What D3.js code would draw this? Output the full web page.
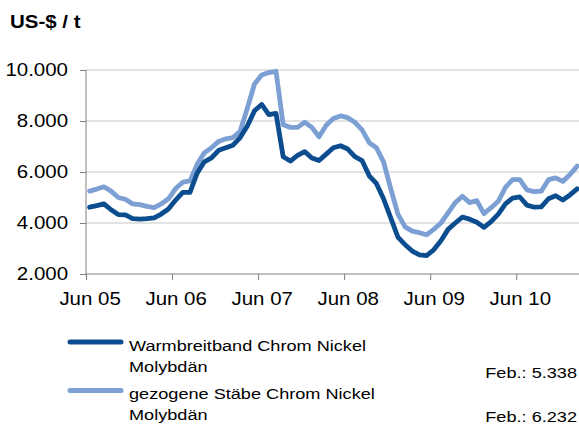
<!DOCTYPE html>
<html>
<head>
<meta charset="utf-8">
<script src="https://cdn.jsdelivr.net/npm/d3@7/dist/d3.min.js"></script>
<style>
  html, body { margin: 0; padding: 0; background: #fff; }
  svg { display: block; }
  text { font-family: "Liberation Sans", Arial, sans-serif; fill: #000; }
</style>
</head>
<body>
<svg id="chart" width="579" height="425"></svg>
<script>
// Monthly prices, Jun 2005 – Feb 2011 (US-$ per tonne)
const warmbreitband = [
  4620, 4680, 4750, 4520, 4330, 4320, 4170, 4150, 4170, 4200,
  4350, 4550, 4900, 5200, 5200, 5950, 6400, 6550, 6850, 6950,
  7050, 7350, 7800, 8400, 8650, 8250, 8300, 6600, 6430, 6650,
  6800, 6550, 6450, 6700, 6950, 7030, 6900, 6600, 6450, 5850,
  5550, 4950, 4200, 3450, 3150, 2900, 2750, 2720, 2950, 3300,
  3750, 4000, 4230, 4150, 4030, 3830, 4050, 4350, 4750, 4980,
  5020, 4700, 4620, 4630, 4950, 5070, 4900, 5100, 5338
];
const gezogeneStaebe = [
  5250, 5330, 5420, 5250, 5000, 4930, 4750, 4720, 4650, 4600,
  4750, 4950, 5350, 5600, 5650, 6300, 6750, 6950, 7200, 7300,
  7350, 7600, 8500, 9450, 9800, 9900, 9950, 7850, 7750, 7750,
  7950, 7750, 7380, 7830, 8100, 8200, 8130, 7950, 7650, 7150,
  6950, 6400, 5350, 4350, 3850, 3680, 3620, 3540, 3750, 4000,
  4400, 4800, 5050, 4800, 4880, 4370, 4600, 4850, 5400, 5700,
  5700, 5300, 5230, 5250, 5700, 5770, 5630, 5900, 6232
];
const seriesNames = [
  ["Warmbreitband Chrom Nickel", "Molybdän"],
  ["gezogene Stäbe Chrom Nickel", "Molybdän"]
];
const seriesColors = ["#0b4d8e", "#7c9fd4"];
const yearTickLabels = ["Jun 05", "Jun 06", "Jun 07", "Jun 08", "Jun 09", "Jun 10"];
const yTickValues = [2000, 4000, 6000, 8000, 10000];
const lastMonthLabel = "Feb.:";
const unitLabel = "US-$ / t";

const de = d3.formatLocale({ decimal: ",", thousands: ".", grouping: [3], currency: ["", " €"] });
const fmt = de.format(",");

const SX = 1.17; // horizontal stretch of the lettering
const svg = d3.select("#chart");

const nMonths = warmbreitband.length;          // 69 months
const plotLeft = 86, plotTop = 70, plotBottom = 274, monthW = 7.17;
const x = d3.scaleLinear().domain([0, nMonths]).range([plotLeft, plotLeft + nMonths * monthW]);
const y = d3.scaleLinear().domain([2000, 10000]).range([plotBottom, plotTop]);
const FONT = "'Liberation Sans', Arial, sans-serif";

function label(txt, px, py, opts = {}) {
  const g = svg.append("g").attr("transform", `translate(${px},${py}) scale(${SX},1)`);
  return g.append("text")
    .attr("text-anchor", opts.anchor || "start")
    .style("font-size", (opts.size || 16) + "px")
    .style("font-weight", opts.weight || "normal")
    .text(txt);
}

// gridlines
svg.append("g")
  .selectAll("line")
  .data(yTickValues.filter(v => v > 2000))
  .join("line")
  .attr("x1", plotLeft).attr("x2", 579)
  .attr("y1", d => y(d)).attr("y2", d => y(d))
  .attr("stroke", "#c6c6c6").attr("stroke-width", 1);

// y axis
const yAxis = svg.append("g")
  .attr("transform", `translate(${plotLeft},0)`)
  .call(d3.axisLeft(y).tickValues(yTickValues).tickSize(6).tickPadding(12).tickFormat(fmt));
yAxis.select(".domain").attr("stroke", "#808080").attr("d", `M0,${y(10000)}V${plotBottom}`);
yAxis.selectAll(".tick line").attr("stroke", "#808080");
yAxis.selectAll("text")
  .style("font-size", "17.5px").style("font-family", FONT).attr("fill", "#000")
  .attr("transform", function () {
    const tx = +d3.select(this).attr("x");
    return `translate(${tx},0) scale(${SX},1) translate(${-tx},0)`;
  });

// x axis: tick marks at year boundaries
const xTicks = d3.range(0, nMonths, 12);
const xAxis = svg.append("g")
  .attr("transform", `translate(0,${plotBottom})`)
  .call(d3.axisBottom(x).tickValues(xTicks).tickSize(6).tickFormat(""));
xAxis.select(".domain").attr("stroke", "#808080").attr("d", `M${plotLeft},0H579`);
xAxis.selectAll(".tick line").attr("stroke", "#808080");

// x labels centred on the June months
const xLab = svg.append("g")
  .attr("transform", `translate(0,${plotBottom})`)
  .call(d3.axisBottom(x).tickValues(xTicks.map(d => d + 0.5)).tickSize(0).tickPadding(19)
    .tickFormat((d, i) => yearTickLabels[i]));
xLab.select(".domain").remove();
xLab.selectAll("text")
  .style("font-size", "17.5px").style("font-family", FONT).attr("fill", "#000")
  .attr("transform", `scale(${SX},1)`);

// series lines
const line = d3.line().x((d, i) => x(i + 0.5)).y(d => y(d));
[[gezogeneStaebe, 1], [warmbreitband, 0]].forEach(([s, k]) => {
  svg.append("path")
    .datum(s)
    .attr("fill", "none")
    .attr("stroke", seriesColors[k])
    .attr("stroke-width", 4.8)
    .attr("stroke-linejoin", "round")
    .attr("stroke-linecap", "round")
    .attr("d", line);
});

// unit label
label(unitLabel, 10, 28, { size: 17.5, weight: "bold" });

// legend
const legendRows = [342, 390.5];
const lastValues = [warmbreitband[nMonths - 1], gezogeneStaebe[nMonths - 1]];
const valueOffsets = [35.5, 31];
legendRows.forEach((ly, k) => {
  svg.append("line")
    .attr("x1", 70).attr("x2", 121)
    .attr("y1", ly).attr("y2", ly)
    .attr("stroke", seriesColors[k]).attr("stroke-width", 5)
    .attr("stroke-linecap", "round");
  label(seriesNames[k][0], 129, ly + 8.5, { size: 15.5 });
  label(seriesNames[k][1], 129, ly + 29.5, { size: 15.5 });
  label(`${lastMonthLabel} ${fmt(lastValues[k])}`, 577, ly + valueOffsets[k], { size: 15.5, anchor: "end" });
});
</script>
</body>
</html>
